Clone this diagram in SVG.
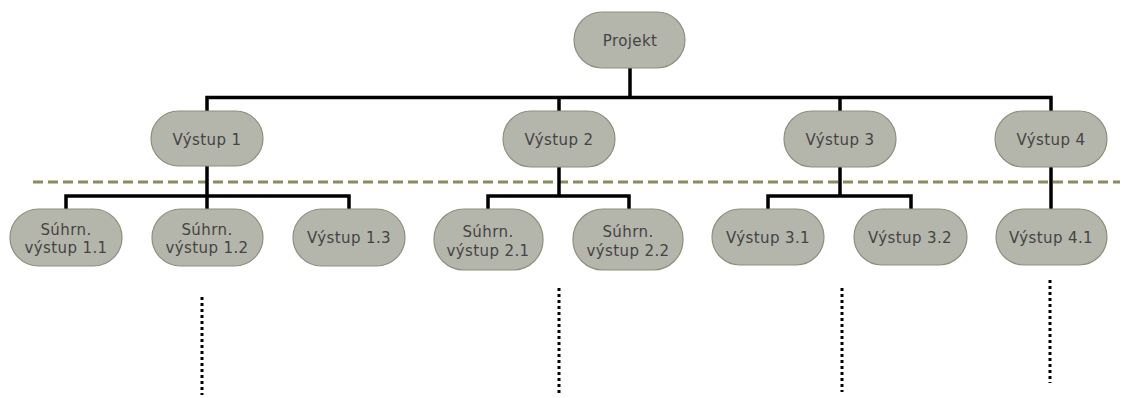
<svg xmlns="http://www.w3.org/2000/svg" width="1125" height="398" viewBox="0 0 1125 398">
<style>
.node rect{fill:#b4b5ab;stroke:#8e8f7c;stroke-width:1.2}
.node text{font-family:"DejaVu Sans",Verdana,sans-serif;font-size:15px;letter-spacing:0.4px;fill:#444;text-anchor:middle}
.conn{stroke:#000;stroke-width:3.5;fill:none}
.dots{stroke:#000;stroke-width:3;stroke-dasharray:3 3;fill:none}
.sep{stroke:#8b8b5c;stroke-width:3;stroke-dasharray:10 5;fill:none}
</style>
<rect width="1125" height="398" fill="#fff"/>
<line class="sep" x1="33" y1="182" x2="1120" y2="182"/>
<g id="connectors">
<path class="conn" d="M630 68V97.5M207 111V97.5H1051V111M559 97.5V111M840 97.5V111"/>
<path class="conn" d="M207 166V196M66 209V196H349V209M207 196V209"/>
<path class="conn" d="M559 167V196M488 209V196H629V209"/>
<path class="conn" d="M840 167V196M768 209V196H911V209"/>
<path class="conn" d="M1051 167V209"/>
<line class="dots" x1="202" y1="297" x2="202" y2="395"/>
<line class="dots" x1="559" y1="288" x2="559" y2="393"/>
<line class="dots" x1="842" y1="288" x2="842" y2="392"/>
<line class="dots" x1="1050" y1="280" x2="1050" y2="383"/>
</g>
<g id="projekt" class="node"><rect x="574" y="12" width="111" height="56" rx="28"/><text x="630" y="46">Projekt</text></g>
<g id="vystup1" class="node"><rect x="151" y="111" width="112" height="55" rx="27.5"/><text x="207" y="145">Výstup 1</text></g>
<g id="vystup2" class="node"><rect x="503" y="111" width="112" height="56" rx="28"/><text x="559" y="145">Výstup 2</text></g>
<g id="vystup3" class="node"><rect x="784" y="111" width="112" height="56" rx="28"/><text x="840" y="145">Výstup 3</text></g>
<g id="vystup4" class="node"><rect x="995" y="111" width="112" height="56" rx="28"/><text x="1051" y="145">Výstup 4</text></g>
<g id="vystup11" class="node"><rect x="10" y="209" width="112" height="57" rx="28.5"/><text x="66" y="235">Súhrn.</text><text x="66" y="253">výstup 1.1</text></g>
<g id="vystup12" class="node"><rect x="152" y="209" width="111" height="57" rx="28.5"/><text x="207" y="235">Súhrn.</text><text x="207" y="253">výstup 1.2</text></g>
<g id="vystup13" class="node"><rect x="293" y="209" width="112" height="57" rx="28.5"/><text x="349" y="243">Výstup 1.3</text></g>
<g id="vystup21" class="node"><rect x="434" y="209" width="109" height="61" rx="30"/><text x="488" y="237">Súhrn.</text><text x="488" y="256">výstup 2.1</text></g>
<g id="vystup22" class="node"><rect x="573" y="209" width="110" height="61" rx="30"/><text x="628" y="237">Súhrn.</text><text x="628" y="256">výstup 2.2</text></g>
<g id="vystup31" class="node"><rect x="712" y="209" width="112" height="56" rx="28"/><text x="768" y="243">Výstup 3.1</text></g>
<g id="vystup32" class="node"><rect x="854" y="209" width="113" height="56" rx="28"/><text x="910" y="243">Výstup 3.2</text></g>
<g id="vystup41" class="node"><rect x="996" y="209" width="111" height="56" rx="28"/><text x="1051" y="243">Výstup 4.1</text></g>
</svg>
